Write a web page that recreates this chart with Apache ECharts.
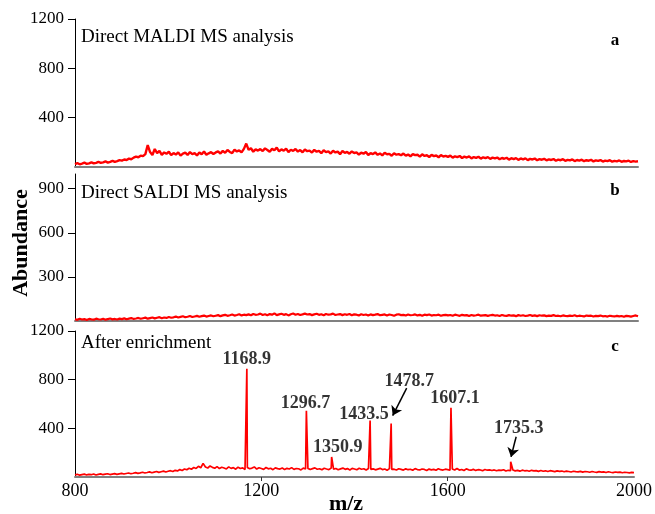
<!DOCTYPE html>
<html>
<head>
<meta charset="utf-8">
<script src="https://cdn.jsdelivr.net/npm/echarts@6/dist/echarts.min.js"></script>
<style>
html, body { margin: 0; padding: 0; background: #fff; }
#chart { width: 655px; height: 514px; }
</style>
</head>
<body>
<div id="chart"></div>
<script>
// Spectra sampled every 5 m/z units from 800 to 2000
const MZ_START = 800;
const MZ_STEP = 5;

// a: direct MALDI MS
const maldi = [
  24, 31, 22, 28, 35, 26, 30, 38, 29, 33, 41, 34, 37, 45, 36, 42, 50, 41, 47, 56,
  52, 61, 57, 68, 63, 76, 84, 79, 92, 88, 104, 178, 121, 97, 146, 112, 131, 99, 118, 107,
  124, 96, 113, 101, 119, 92, 108, 116, 98, 121, 105, 112, 94, 117, 103, 126, 99, 111, 120, 106,
  118, 127, 109, 131, 115, 138, 122, 112, 141, 126, 134, 119, 147, 190, 139, 152, 124, 143, 133, 145,
  129, 151, 138, 124, 147, 135, 158, 127, 143, 132, 149, 121, 140, 131, 146, 125, 137, 119, 142, 128,
  133, 117, 139, 124, 130, 112, 136, 121, 127, 109, 132, 118, 125, 104, 129, 115, 122, 108, 126, 113,
  119, 101, 116, 108, 122, 97, 113, 105, 118, 99, 110, 94, 115, 103, 107, 91, 112, 100, 104, 95,
  109, 92, 101, 87, 105, 96, 99, 84, 103, 90, 95, 81, 98, 88, 93, 79, 96, 85, 90, 82,
  92, 76, 87, 80, 89, 73, 84, 77, 86, 70, 81, 74, 83, 68, 79, 72, 80, 66, 76, 70,
  77, 63, 73, 67, 75, 60, 71, 64, 72, 58, 69, 62, 70, 56, 66, 61, 68, 55, 64, 59,
  66, 54, 62, 57, 64, 51, 60, 55, 63, 50, 58, 53, 61, 48, 57, 52, 59, 47, 55, 51,
  58, 45, 54, 49, 56, 44, 52, 47, 55, 43, 50, 46, 53, 42, 49, 45, 51, 41, 48, 44,
  47
];

// b: direct SALDI MS
const saldi = [
  12, 8, 15, 10, 13, 7, 14, 11, 9, 16, 12, 10, 15, 9, 13, 17, 11, 14, 10, 16,
  13, 18, 12, 16, 20, 14, 17, 21, 15, 19, 23, 16, 20, 24, 18, 22, 26, 19, 24, 21,
  27, 22, 25, 30, 24, 28, 32, 26, 29, 34, 27, 31, 35, 29, 33, 37, 30, 34, 38, 32,
  36, 40, 33, 38, 42, 35, 39, 44, 37, 41, 46, 38, 43, 40, 45, 39, 48, 42, 44, 50,
  41, 46, 39, 47, 43, 52, 40, 45, 49, 42, 47, 38, 46, 51, 43, 48, 41, 45, 50, 44,
  47, 40, 45, 49, 42, 46, 39, 48, 43, 45, 50, 41, 44, 47, 40, 46, 42, 48, 39, 45,
  43, 38, 46, 41, 44, 37, 45, 40, 43, 47, 39, 42, 45, 38, 44, 41, 36, 43, 46, 40,
  42, 37, 44, 39, 41, 45, 38, 42, 36, 43, 40, 44, 37, 41, 39, 43, 36, 40, 42, 38,
  41, 36, 43, 39, 35, 42, 38, 40, 34, 41, 37, 39, 43, 36, 38, 40, 35, 39, 42, 37,
  39, 34, 41, 37, 35, 40, 36, 38, 33, 40, 36, 39, 34, 37, 41, 35, 38, 33, 39, 36,
  38, 33, 37, 35, 40, 34, 36, 32, 38, 35, 33, 37, 34, 39, 32, 36, 34, 31, 37, 35,
  36, 31, 35, 33, 37, 32, 34, 30, 36, 33, 31, 35, 32, 34, 29, 35, 33, 30, 34, 38,
  32
];

// c: after enrichment, baseline
const enriched = [
  18, 22, 15, 20, 24, 17, 21, 19, 25, 16, 22, 26, 19, 23, 27, 20, 24, 28, 22, 26,
  30, 25, 29, 33, 27, 31, 36, 30, 34, 39, 33, 37, 42, 35, 40, 45, 38, 43, 48, 41,
  47, 52, 45, 55, 50, 61, 54, 66, 59, 72, 64, 78, 70, 88, 76, 112, 82, 74, 91, 79,
  72, 85, 69, 80, 74, 66, 83, 71, 77, 64, 81, 70, 75, 62, 79, 68, 73, 83, 65, 76,
  70, 63, 78, 67, 72, 60, 75, 69, 65, 74, 61, 71, 66, 77, 63, 70, 68, 58, 73, 66,
  71, 62, 69, 75, 64, 68, 59, 72, 66, 61, 74, 65, 70, 60, 67, 73, 63, 69, 58, 71,
  66, 60, 72, 64, 68, 57, 70, 63, 67, 59, 65, 71, 61, 66, 56, 69, 62, 64, 58, 68,
  63, 57, 67, 60, 64, 55, 69, 61, 58, 66, 62, 54, 65, 59, 63, 56, 68, 60, 57, 64,
  61, 55, 66, 58, 70, 57, 62, 53, 67, 59, 56, 63, 54, 60, 58, 52, 62, 56, 59, 53,
  58, 51, 57, 54, 60, 49, 55, 52, 57, 50, 54, 48, 56, 51, 53, 47, 55, 50, 52, 46,
  53, 47, 51, 45, 52, 48, 44, 50, 46, 49, 43, 48, 45, 41, 47, 44, 42, 46, 40, 45,
  43, 39, 45, 41, 38, 44, 40, 42, 37, 43, 39, 36, 41, 38, 40, 35, 39, 37, 34, 38,
  36
];

// Labelled peaks in the enriched spectrum
const peakMz = [1168.9, 1296.7, 1350.9, 1433.5, 1478.7, 1607.1, 1735.3];
const peakHeight = [890, 545, 165, 465, 440, 570, 125];

// Axis ticks
const xTicks = [800, 1200, 1600, 2000];
const yTicksA = [400, 800, 1200];
const yTicksB = [300, 600, 900];
const yTicksC = [400, 800, 1200];

const panelTitles = ['Direct MALDI MS analysis', 'Direct SALDI MS analysis', 'After enrichment'];
const panelLetters = ['a', 'b', 'c'];

const SERIF = '"Liberation Serif", "Times New Roman", serif';

function toPairs(vals) {
  return vals.map((v, i) => [MZ_START + i * MZ_STEP, v]);
}

// enriched baseline with the peak apexes inserted in m/z order
const enrichedPairs = toPairs(enriched)
  .concat(peakMz.map((m, i) => [m, peakHeight[i]]))
  .sort((p, q) => p[0] - q[0]);

// per-peak label placement (pixel offsets from the apex)
const labelOffsets = [[0, 0], [-1, 2], [6, -1], [-6, 3], [18, -33], [4, 0], [8, -24]];

const grids = [
  { left: 75, right: 17, top: 19, height: 148 },
  { left: 75, right: 17, top: 174, height: 147 },
  { left: 75, right: 17, top: 331, height: 146 }
];

const plainNumber = v => String(v);

function xAxisFor(idx, last) {
  return {
    type: 'value', gridIndex: idx, min: 800, max: 2000, interval: 400,
    axisLine: { show: true, onZero: false, lineStyle: { color: '#808080', width: 2 } },
    axisTick: { show: last, inside: false, length: 4, customValues: [1200, 1600], lineStyle: { color: '#333', width: 1 } },
    axisLabel: { show: last, customValues: xTicks, formatter: plainNumber, margin: 5, color: '#000', fontSize: 18, fontFamily: SERIF },
    splitLine: { show: false }
  };
}

function yAxisFor(idx, max, ticks) {
  return {
    type: 'value', gridIndex: idx, min: 0, max: max,
    axisLine: { show: true, onZero: false, lineStyle: { color: '#000', width: 1 } },
    axisTick: { show: true, inside: false, length: 7, customValues: ticks, lineStyle: { color: '#000', width: 1 } },
    axisLabel: { show: true, customValues: ticks, formatter: plainNumber, margin: 11, color: '#000', fontSize: 17, fontFamily: SERIF },
    splitLine: { show: false }
  };
}

const graphic = [];
const titleY = [37, 193, 343];
const letterY = [41, 191, 347];
panelTitles.forEach((t, i) => {
  graphic.push({ type: 'text', x: 81, y: titleY[i], silent: true,
    style: { text: t, font: '19px ' + SERIF, fill: '#000', verticalAlign: 'middle' } });
  graphic.push({ type: 'text', x: 615, y: letterY[i], silent: true,
    style: { text: panelLetters[i], font: 'bold 17px ' + SERIF, fill: '#000', align: 'center', verticalAlign: 'middle' } });
});
graphic.push({ type: 'text', x: 21, y: 243, rotation: Math.PI / 2, silent: true,
  style: { text: 'Abundance', font: 'bold 22px ' + SERIF, fill: '#000', align: 'center', verticalAlign: 'middle' } });
graphic.push({ type: 'text', x: 346, y: 504, silent: true,
  style: { text: 'm/z', font: 'bold 22px ' + SERIF, fill: '#000', align: 'center', verticalAlign: 'middle' } });

const chart = echarts.init(document.getElementById('chart'), null, { renderer: 'canvas' });
chart.setOption({
  animation: false,
  backgroundColor: '#fff',
  grid: grids,
  xAxis: [xAxisFor(0, false), xAxisFor(1, false), xAxisFor(2, true)],
  yAxis: [yAxisFor(0, 1200, yTicksA), yAxisFor(1, 1000, yTicksB), yAxisFor(2, 1200, yTicksC)],
  graphic: graphic,
  series: [
    { type: 'line', xAxisIndex: 0, yAxisIndex: 0, data: toPairs(maldi), showSymbol: false, lineStyle: { color: '#ff0000', width: 2.4 }, silent: true },
    { type: 'line', xAxisIndex: 1, yAxisIndex: 1, data: toPairs(saldi), showSymbol: false, lineStyle: { color: '#ff0000', width: 2.2 }, silent: true },
    { type: 'line', xAxisIndex: 2, yAxisIndex: 2, data: enrichedPairs, showSymbol: false, lineStyle: { color: '#ff0000', width: 1.7 }, silent: true, z: 3 },
    {
      type: 'scatter', xAxisIndex: 2, yAxisIndex: 2, symbolSize: 0, silent: true, z: 4,
      data: peakMz.map((m, i) => ({
        value: [m, peakHeight[i]],
        label: { offset: labelOffsets[i] }
      })),
      label: {
        show: true, position: 'top', distance: 0,
        formatter: p => p.value[0].toFixed(1),
        color: '#000', fontSize: 18, fontWeight: 'bold', fontFamily: SERIF, lineHeight: 18
      },
      markLine: {
        silent: true, animation: false,
        symbol: ['none', 'arrow'], symbolSize: 9,
        label: { show: false },
        lineStyle: { color: '#000', width: 1.5, type: 'solid' },
        itemStyle: { color: '#000' },
        emphasis: { disabled: true },
        data: [
          [{ coord: [1512, 731] }, { coord: [1482, peakHeight[4] + 65] }],
          [{ coord: [1747, 331] }, { coord: [1736, peakHeight[6] + 40] }]
        ]
      }
    }
  ]
});
</script>
</body>
</html>
